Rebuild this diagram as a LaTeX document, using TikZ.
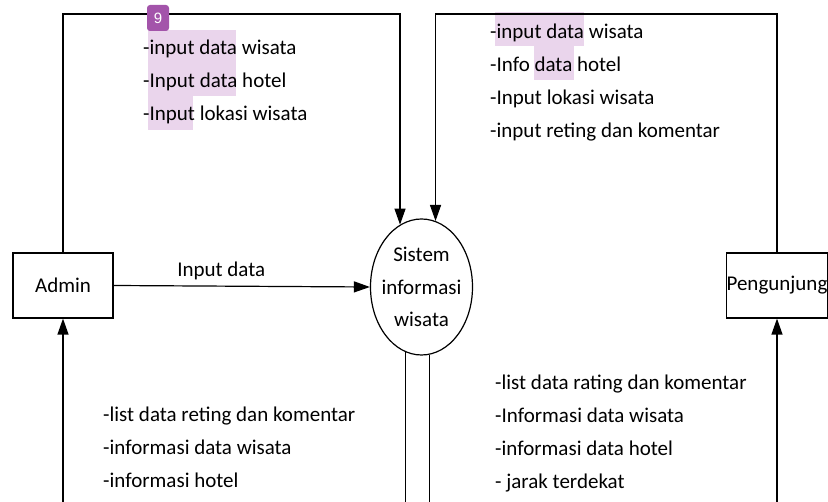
\documentclass[tikz,border=0pt]{standalone}
\usepackage{fontspec}
\setmainfont{Carlito}
\newfontfamily\badgefont{Liberation Sans}
\usepackage{xcolor}
\usetikzlibrary{arrows.meta}
\usetikzlibrary{shapes.geometric}
\definecolor{surligne}{RGB}{234,213,236}
\definecolor{pastille}{RGB}{163,84,170}

\begin{document}
\begin{tikzpicture}[x=1pt,y=-1pt,
    flux/.style={line width=1.2pt,-{Triangle[length=16pt,width=11pt]}},
    boite/.style={draw,line width=1.2pt,minimum width=100pt,minimum height=65pt,inner sep=0pt},
    liste/.style={align=left,anchor=west,inner sep=0pt},
    every node/.style={font=\fontsize{21}{33}\selectfont}]
\useasboundingbox (0,0) rectangle (828,502);
\clip (0,0) rectangle (828,502);
% surlignage
\fill[surligne] (148,30) rectangle (236,63);
\fill[surligne] (148,63) rectangle (236,96);
\fill[surligne] (148,96) rectangle (193,130);
\fill[surligne] (495,12) rectangle (584,46);
\fill[surligne] (534,46) rectangle (574,80);
% entites et processus
\node[boite] (admin) at (63,285.5) {Admin};
\node[boite] (peng) at (777,285.5) {Pengunjung};
\node[draw,ellipse,line width=1.2pt,minimum width=102pt,minimum height=136pt,inner sep=0pt] (sys) at (421.5,287) {};
\node[align=center,inner sep=0pt,font=\fontsize{21}{32.5}\selectfont] (systxt) at (sys) {Sistem\\informasi\\wisata};
\coordinate (haut) at (0,14);
\coordinate (bas) at (0,530);
% flux de donnees
\draw[flux] (admin.north) |- (haut -| sys.109) -- (sys.109);
\draw[flux] (peng.north) |- (haut -| sys.78) -- (sys.78);
\draw[flux] (admin.east) -- (sys.west) node[pos=.42,above=2pt] (lbl) {Input data};
\draw[flux] (sys.-104) -- (sys.-104 |- bas) -| (admin.south);
\draw[flux] (sys.-83) -- (sys.-83 |- bas) -| (peng.south);
% textes des flux
\node[liste] (inadmin) at (143,82) {-input data wisata\\-Input data hotel\\-Input lokasi wisata};
\node[liste] (inpeng) at (490,83) {-input data wisata\\-Info data hotel\\-Input lokasi wisata\\-input reting dan komentar};
\node[liste] (outadmin) at (103,447) {-list data reting dan komentar\\-informasi data wisata\\-informasi hotel};
\node[liste] (outpeng) at (495,433.5) {-list data rating dan komentar\\-Informasi data wisata\\-informasi data hotel\\- jarak terdekat};
\node[fill=pastille,rounded corners=3pt,text=white,font=\badgefont\fontsize{15}{15}\selectfont,minimum width=22pt,minimum height=26pt,inner sep=0pt] (badge) at (158,18) {9};
\end{tikzpicture}
\end{document}
